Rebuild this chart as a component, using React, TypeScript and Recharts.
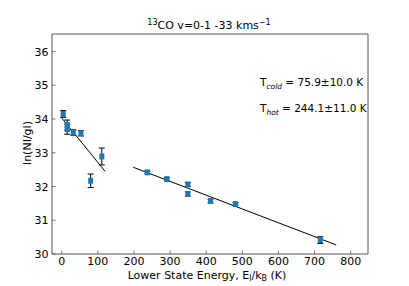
import React from "react";
import {
  ComposedChart,
  Scatter,
  Line,
  XAxis,
  YAxis,
  ZAxis,
  ErrorBar,
  ReferenceArea,
} from "recharts";

const coldE = [4, 15, 15, 32, 53, 80, 111];
const coldLn = [34.15, 33.82, 33.7, 33.6, 33.58, 32.17, 32.89];
const coldErr = [0.1, 0.15, 0.15, 0.08, 0.08, 0.2, 0.25];

const hotE = [237, 291, 349, 349, 412, 481, 716];
const hotLn = [32.42, 32.22, 32.06, 31.78, 31.57, 31.48, 30.41];
const hotErr = [0.04, 0.04, 0.06, 0.06, 0.05, 0.04, 0.1];

const coldFitE = [0, 120];
const coldFitLn = [34.03, 32.45];
const hotFitE = [198, 760];
const hotFitLn = [32.57, 30.27];

const xTicks = [0, 100, 200, 300, 400, 500, 600, 700, 800];
const yTicks = [30, 31, 32, 33, 34, 35, 36];

const X_DOMAIN: [number, number] = [-27, 848];
const Y_DOMAIN: [number, number] = [30, 36.52];

const toPoints = (xs: number[], ys: number[], es?: number[]) =>
  xs.map((x, i) => ({ x, y: ys[i], err: es ? es[i] : 0 }));

const coldData = toPoints(coldE, coldLn, coldErr);
const hotData = toPoints(hotE, hotLn, hotErr);
const coldFit = toPoints(coldFitE, coldFitLn);
const hotFit = toPoints(hotFitE, hotFitLn);

const FONT = "DejaVu Sans";
const AXIS_COLOR = "#555";

const renderYTick = (props: any) => {
  const { x, y, payload } = props;
  return (
    <g key={`yt-${payload.value}`}>
      <line x1={x} y1={y} x2={x + 3.5} y2={y} stroke={AXIS_COLOR} strokeWidth={0.8} />
      <text
        x={x - 3.5}
        y={y}
        dy={4}
        textAnchor="end"
        fontFamily={FONT}
        fontSize={11}
        fill="#000"
      >
        {payload.value}
      </text>
    </g>
  );
};

const renderXTick = (props: any) => {
  const { x, y, payload } = props;
  return (
    <g key={`xt-${payload.value}`}>
      <line x1={x} y1={y} x2={x} y2={y - 3.5} stroke={AXIS_COLOR} strokeWidth={0.8} />
      <text
        x={x}
        y={y + 11}
        textAnchor="middle"
        fontFamily={FONT}
        fontSize={11}
        fill="#000"
      >
        {payload.value}
      </text>
    </g>
  );
};

const Square = (props: any) => {
  const { cx, cy } = props;
  if (cx == null || cy == null) return null;
  return <rect x={cx - 2.5} y={cy - 3} width={5} height={6} fill="#1f77b4" />;
};

export default function App() {
  return (
    <div style={{ position: "absolute", left: 0, top: 0, width: 409, height: 286 }}>
      <ComposedChart
        width={409}
        height={286}
        margin={{ top: 34, right: 41, bottom: 12, left: 22 }}
        style={{ background: "#fff" }}
      >
        <XAxis
          type="number"
          dataKey="x"
          domain={X_DOMAIN}
          ticks={xTicks}
          allowDataOverflow
          height={20}
          tickSize={0}
          tickMargin={0}
          tickLine={false}
          axisLine={false}
          tick={renderXTick}
          interval={0}
        />
        <YAxis
          type="number"
          dataKey="y"
          domain={Y_DOMAIN}
          ticks={yTicks}
          allowDataOverflow
          width={30}
          tickSize={0}
          tickMargin={0}
          tickLine={false}
          axisLine={false}
          tick={renderYTick}
          interval={0}
        />
        <ZAxis range={[30, 30]} />
        <ReferenceArea
          x1={X_DOMAIN[0]}
          x2={X_DOMAIN[1]}
          y1={Y_DOMAIN[0]}
          y2={Y_DOMAIN[1]}
          fill="none"
          fillOpacity={0}
          stroke={AXIS_COLOR}
          strokeWidth={1}
          ifOverflow="visible"
        />
        <Line
          data={coldFit}
          dataKey="y"
          stroke="#000"
          strokeWidth={1}
          dot={false}
          activeDot={false}
          isAnimationActive={false}
          legendType="none"
        />
        <Line
          data={hotFit}
          dataKey="y"
          stroke="#000"
          strokeWidth={1}
          dot={false}
          activeDot={false}
          isAnimationActive={false}
          legendType="none"
        />
        <Scatter data={coldData} shape={<Square />} isAnimationActive={false}>
          <ErrorBar dataKey="err" direction="y" width={3} stroke="#000" strokeWidth={1} />
        </Scatter>
        <Scatter data={hotData} shape={<Square />} isAnimationActive={false}>
          <ErrorBar dataKey="err" direction="y" width={3} stroke="#000" strokeWidth={1} />
        </Scatter>
      </ComposedChart>
      <svg
        width={409}
        height={286}
        style={{ position: "absolute", left: 0, top: 0, pointerEvents: "none" }}
        fontFamily={FONT}
      >
        <text x={209} y={29} textAnchor="middle" fontSize={11} fill="#000">
          <tspan fontSize={8} dy={-4}>13</tspan>
          <tspan dy={4}>CO v=0-1 -33 kms</tspan>
          <tspan fontSize={8} dy={-4}>−1</tspan>
        </text>
        <text
          transform="translate(31,143) rotate(-90)"
          textAnchor="middle"
          fontSize={11}
          fill="#000"
        >
          ln(NI/gl)
        </text>
        <text x={207} y={279} textAnchor="middle" fontSize={11} fill="#000">
          <tspan>Lower State Energy, E</tspan>
          <tspan fontSize={8} dy={2}>l</tspan>
          <tspan dy={-2}>/k</tspan>
          <tspan fontSize={8} dy={2}>B</tspan>
          <tspan dy={-2}> (K)</tspan>
        </text>
        <text x={260} y={86} fontSize={10.5} fill="#000">
          <tspan>T</tspan>
          <tspan fontSize={7.5} dy={3} fontStyle="italic">cold</tspan>
          <tspan dy={-3}> = 75.9±10.0 K</tspan>
        </text>
        <text x={260} y={112} fontSize={10.5} fill="#000">
          <tspan>T</tspan>
          <tspan fontSize={7.5} dy={3} fontStyle="italic">hot</tspan>
          <tspan dy={-3}> = 244.1±11.0 K</tspan>
        </text>
      </svg>
    </div>
  );
}
